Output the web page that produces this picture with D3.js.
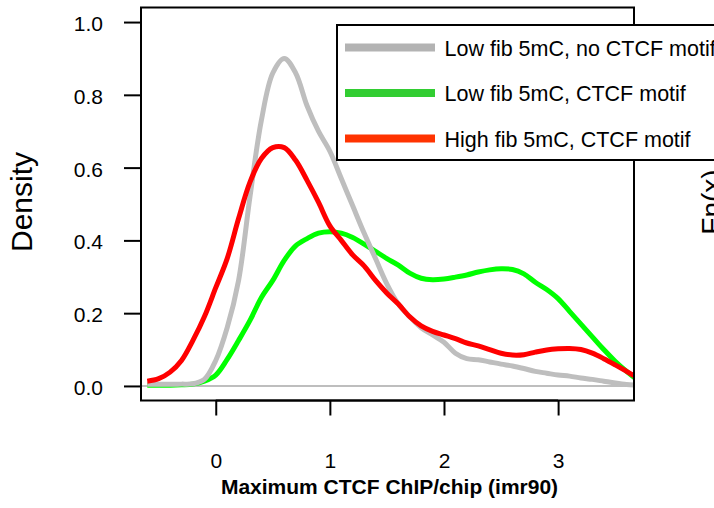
<!DOCTYPE html>
<html>
<head>
<meta charset="utf-8">
<script src="https://cdn.jsdelivr.net/npm/d3@7/dist/d3.min.js"></script>
<style>
  html, body { margin: 0; padding: 0; background: #fff; }
  svg { display: block; font-family: "Liberation Sans", Arial, Helvetica, sans-serif; }
</style>
</head>
<body>
<svg id="chart" width="714" height="508"></svg>
<script>
// Evaluation grid of the kernel density estimates (log10 max CTCF ChIP/chip)
const gridX = [-0.6, -0.5, -0.4, -0.3, -0.2, -0.1, 0.0, 0.1, 0.2, 0.3, 0.4, 0.5, 0.6, 0.7, 0.8, 0.9,
               1.0, 1.1, 1.2, 1.3, 1.4, 1.5, 1.6, 1.7, 1.8, 1.9, 2.0, 2.1, 2.2, 2.3, 2.4, 2.5,
               2.6, 2.7, 2.8, 2.9, 3.0, 3.1, 3.2, 3.3, 3.4, 3.5, 3.6, 3.7];

// Density of each group at gridX
const lowNoMotif = [0.005, 0.005, 0.005, 0.005, 0.006, 0.018, 0.07, 0.16, 0.29, 0.52, 0.73, 0.86, 0.90, 0.86, 0.77, 0.70,
                    0.645, 0.57, 0.495, 0.42, 0.35, 0.28, 0.225, 0.19, 0.16, 0.14, 0.12, 0.09, 0.075, 0.072, 0.066, 0.06,
                    0.055, 0.048, 0.04, 0.035, 0.03, 0.027, 0.022, 0.018, 0.013, 0.008, 0.004, 0.002];
const lowMotif   = [0.002, 0.002, 0.002, 0.003, 0.005, 0.013, 0.03, 0.073, 0.125, 0.18, 0.243, 0.29, 0.345, 0.385, 0.405, 0.42,
                    0.424, 0.42, 0.408, 0.39, 0.37, 0.35, 0.332, 0.31, 0.296, 0.292, 0.294, 0.299, 0.305, 0.313, 0.319, 0.322,
                    0.32, 0.308, 0.285, 0.265, 0.24, 0.205, 0.17, 0.135, 0.10, 0.068, 0.04, 0.015];
const highMotif  = [0.013, 0.02, 0.038, 0.07, 0.125, 0.19, 0.27, 0.35, 0.46, 0.56, 0.625, 0.655, 0.655, 0.62, 0.565, 0.505,
                    0.44, 0.40, 0.36, 0.33, 0.29, 0.255, 0.225, 0.19, 0.165, 0.15, 0.14, 0.13, 0.118, 0.11, 0.10, 0.09,
                    0.085, 0.086, 0.093, 0.099, 0.102, 0.103, 0.10, 0.09, 0.075, 0.058, 0.04, 0.022];

const seriesNames   = ["Low fib 5mC, no CTCF motif", "Low fib 5mC, CTCF motif", "High fib 5mC, CTCF motif"];
const curveColors   = ["#bebebe", "#00ff00", "#ff0000"];
const legendColors  = ["#b3b3b3", "#32cd32", "#ff3300"];

const xTicks = [0, 1, 2, 3];
const yTicks = [0, 0.2, 0.4, 0.6, 0.8, 1.0];
const yTickLabels = ["0.0", "0.2", "0.4", "0.6", "0.8", "1.0"];

const xLabel = "Maximum CTCF ChIP/chip (imr90)";
const yLabel = "Density";
const nextPanelYLabel = "Fn(x)";

// ---- layout ----
const plot = { left: 141, right: 634, top: 7.5, bottom: 400.5 };
const svg = d3.select("#chart");

const x = d3.scaleLinear().domain([-0.655, 3.665]).range([plot.left, plot.right]);
const y = d3.scaleLinear().domain([-0.04, 1.04]).range([plot.bottom, plot.top]);

svg.append("defs").append("clipPath").attr("id", "plotClip")
  .append("rect")
  .attr("x", plot.left).attr("y", plot.top)
  .attr("width", plot.right - plot.left).attr("height", plot.bottom - plot.top);

const inner = svg.append("g").attr("clip-path", "url(#plotClip)");

// zero reference line
inner.append("line")
  .attr("x1", plot.left).attr("x2", plot.right)
  .attr("y1", y(0)).attr("y2", y(0))
  .attr("stroke", "#bebebe").attr("stroke-width", 2);

// density curves
const line = d3.line()
  .x((d, i) => x(gridX[i]))
  .y(d => y(d))
  .curve(d3.curveCatmullRom.alpha(0.5));

const seriesData = [lowNoMotif, lowMotif, highMotif];
const drawOrder = [1, 0, 2];
drawOrder.forEach(k => {
  inner.append("path")
    .datum(seriesData[k])
    .attr("d", line)
    .attr("fill", "none")
    .attr("stroke", curveColors[k])
    .attr("stroke-width", 5)
    .attr("stroke-linejoin", "round");
});

// plot box
svg.append("rect")
  .attr("x", plot.left).attr("y", plot.top)
  .attr("width", plot.right - plot.left).attr("height", plot.bottom - plot.top)
  .attr("fill", "none").attr("stroke", "#000").attr("stroke-width", 2);

// y axis
const yAxis = svg.append("g")
  .attr("transform", `translate(${plot.left},0)`)
  .call(d3.axisLeft(y).tickValues(yTicks)
    .tickFormat((d, i) => yTickLabels[i])
    .tickSize(17).tickPadding(21));
yAxis.select(".domain").remove();
yAxis.selectAll(".tick line").attr("stroke", "#000").attr("stroke-width", 2);
yAxis.selectAll(".tick text")
  .attr("font-size", 21).attr("font-family", null).attr("fill", "#000").attr("dy", "0.4em");
yAxis.append("line")
  .attr("x1", 0).attr("x2", 0)
  .attr("y1", y(yTicks[0])).attr("y2", y(yTicks[yTicks.length - 1]))
  .attr("stroke", "#000").attr("stroke-width", 2);

// x axis
const xAxis = svg.append("g")
  .attr("transform", `translate(0,${plot.bottom})`)
  .call(d3.axisBottom(x).tickValues(xTicks)
    .tickFormat(d3.format("d"))
    .tickSize(15).tickPadding(38));
xAxis.select(".domain").remove();
xAxis.selectAll(".tick line").attr("stroke", "#000").attr("stroke-width", 2);
xAxis.selectAll(".tick text")
  .attr("font-size", 21).attr("font-family", null).attr("fill", "#000");
xAxis.append("line")
  .attr("x1", x(xTicks[0])).attr("x2", x(xTicks[xTicks.length - 1]))
  .attr("y1", 0).attr("y2", 0)
  .attr("stroke", "#000").attr("stroke-width", 2);

// axis titles
svg.append("text")
  .attr("x", (plot.left + plot.right) / 2 + 2).attr("y", 494)
  .attr("text-anchor", "middle")
  .attr("font-size", 21).attr("font-weight", "bold")
  .text(xLabel);

svg.append("text")
  .attr("transform", `translate(32,${(plot.top + plot.bottom) / 2 - 2}) rotate(-90)`)
  .attr("text-anchor", "middle")
  .attr("font-size", 30)
  .text(yLabel);

// y title of the neighbouring panel
svg.append("text")
  .attr("transform", `translate(721,${(plot.top + plot.bottom) / 2 - 2}) rotate(-90)`)
  .attr("text-anchor", "middle")
  .attr("font-size", 28)
  .text(nextPanelYLabel);

// legend
const legend = svg.append("g");
const legendTop = 25, legendLeft = 337, rowY = [47.5, 93, 138.5];
legend.append("rect")
  .attr("x", legendLeft).attr("y", legendTop)
  .attr("width", 420).attr("height", 135)
  .attr("fill", "#fff").attr("stroke", "#000").attr("stroke-width", 2);

seriesNames.forEach((name, i) => {
  legend.append("line")
    .attr("x1", 345).attr("x2", 435)
    .attr("y1", rowY[i]).attr("y2", rowY[i])
    .attr("stroke", legendColors[i]).attr("stroke-width", 8);
  legend.append("text")
    .attr("x", 444.5).attr("y", rowY[i] + 8)
    .attr("font-size", 21.5)
    .text(name);
});
</script>
</body>
</html>
